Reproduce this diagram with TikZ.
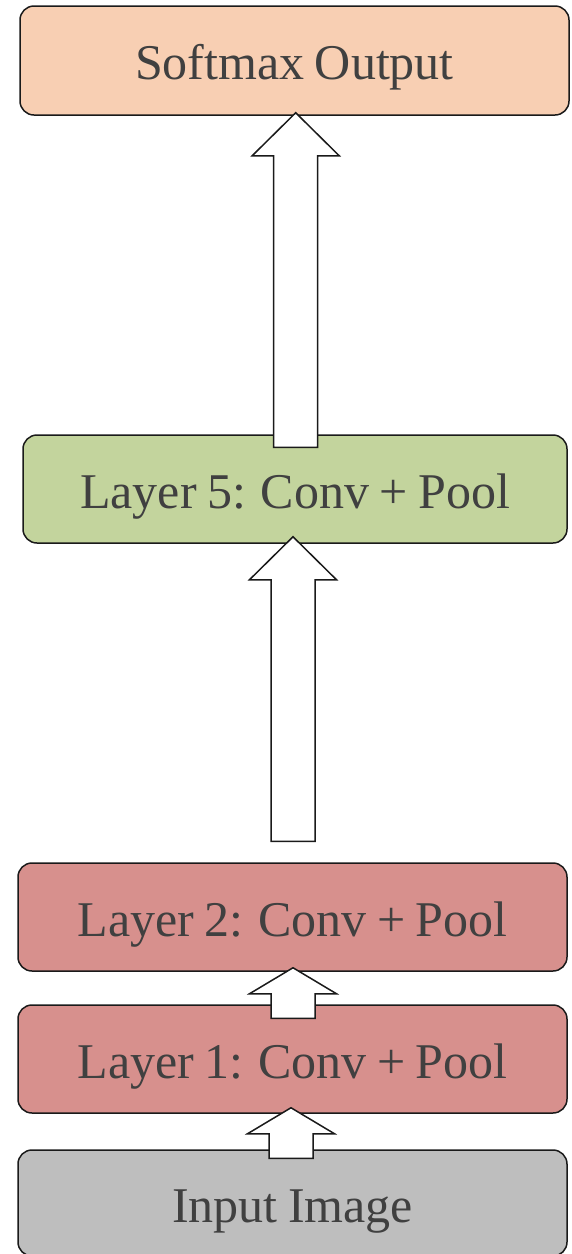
\documentclass[tikz,border=0pt]{standalone}
\usepackage{fontspec}
\setmainfont{Liberation Serif}[WordSpace=0.84]
\usetikzlibrary{calc}

\definecolor{outfill}{HTML}{F8CFB3}
\definecolor{deepfill}{HTML}{C3D49D}
\definecolor{convfill}{HTML}{D7908D}
\definecolor{infill}{HTML}{BEBEBE}
\definecolor{labelgray}{HTML}{404040}
\definecolor{edgeblack}{HTML}{1A1A1A}

\tikzset{
  layerbox/.style={draw=edgeblack, line width=1.5pt, rounded corners=14pt,
    minimum width=549pt, minimum height=108pt, inner sep=0pt,
    text=labelgray, font=\fontsize{50}{50}\selectfont,
    text height=38pt, text depth=0pt},
  blockarrow/.style={draw=edgeblack, fill=white, line width=1.5pt, line join=miter},
}

% Hollow block arrow from the top of node #1 up to the bottom of node #2.
% #3 centre x, #4 shaft-end offset from #1.north, #5 tip offset from #2.south,
% #6 length of the arrow head.
\newcommand\blockarrow[6]{%
  \draw[blockarrow] let \p1=(#1.north), \p2=(#2.south) in
    (#3,\y2+#5pt)
    -- (#3+43.5,\y2+#5pt-#6pt) -- (#3+22,\y2+#5pt-#6pt)
    -- (#3+22,\y1+#4pt) -- (#3-22,\y1+#4pt)
    -- (#3-22,\y2+#5pt-#6pt) -- (#3-43.5,\y2+#5pt-#6pt) -- cycle;}

\begin{document}
\begin{tikzpicture}[x=1pt, y=-1pt]
  \useasboundingbox (0,0) rectangle (572,1254);

  \node[layerbox, fill=outfill,  minimum height=109pt] (sm) at (294.5,60.5) {Softmax Output};
  \node[layerbox, fill=deepfill, minimum width=544pt]   (l5) at (295,489)    {Layer 5: Conv + Pool};
  \node[layerbox, fill=convfill] (l2) at (292.5,917)  {Layer 2: Conv + Pool};
  \node[layerbox, fill=convfill] (l1) at (292.5,1059) {Layer 1: Conv + Pool};
  \node[layerbox, fill=infill,   minimum height=106pt] (in) at (292.5,1203) {Input Image};

  \blockarrow{l5}{sm}{295.7}{-13}{3}{43}
  \blockarrow{l2}{l5}{293}{21}{7}{43}
  \blockarrow{l1}{l2}{293}{-14}{4}{26}
  \blockarrow{in}{l1}{291}{-9}{6}{26}
\end{tikzpicture}
\end{document}
